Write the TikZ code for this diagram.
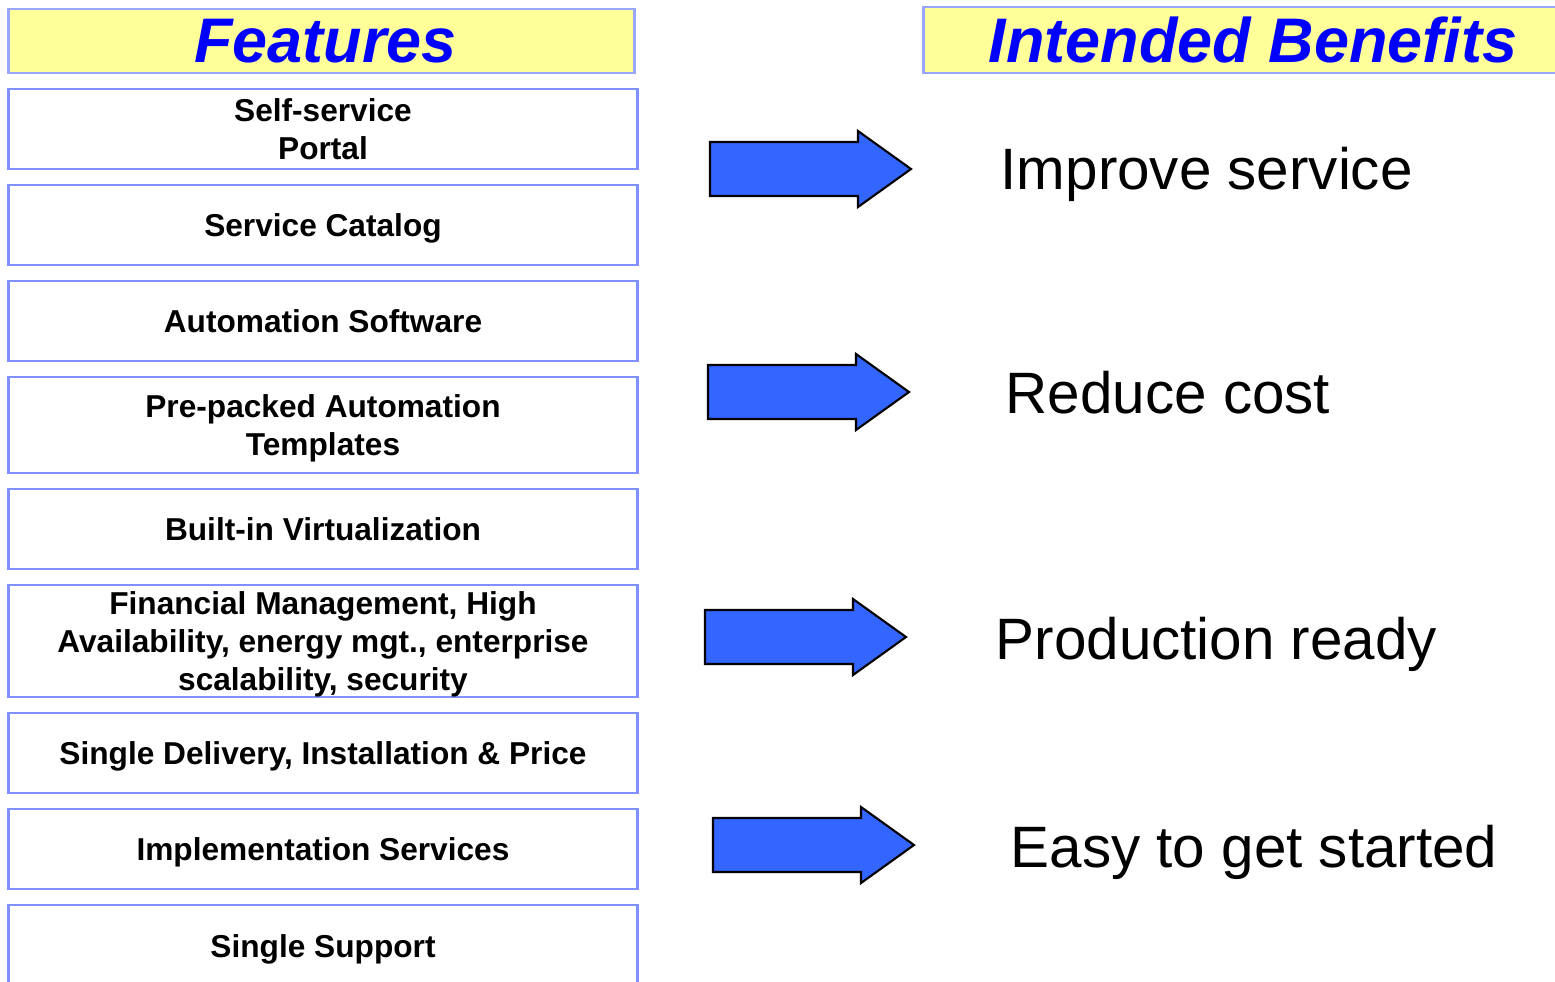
\documentclass[tikz,border=0pt]{standalone}
\usepackage{fontspec}
\setmainfont{Liberation Sans}
\usetikzlibrary{positioning}

\definecolor{headfill}{HTML}{FFFF99}
\definecolor{headline}{HTML}{99A6FF}
\definecolor{boxline}{HTML}{8090FF}
\definecolor{titleblue}{HTML}{0000FF}
\definecolor{arrowblue}{HTML}{3366FF}

\tikzset{
  header/.style={draw=headline, fill=headfill, line width=0.8pt, inner sep=0pt,
    font=\fontsize{17.9pt}{20pt}\selectfont\bfseries\itshape, text=titleblue},
  feature/.style={draw=boxline, line width=0.8pt, minimum width=6.28cm, inner sep=0pt,
    text depth=0pt, align=center, font=\fontsize{9pt}{10.8pt}\selectfont\bfseries},
  benefit/.style={anchor=base west, inner sep=0pt, font=\fontsize{16.6pt}{19pt}\selectfont},
  bigarrow/.style={draw=black, fill=arrowblue, line width=0.6pt, line join=miter}
}

\begin{document}
\begin{tikzpicture}[x=0.01cm, y=-0.01cm]

\useasboundingbox (0,0) rectangle (1555,981);

% Titoli
\node[header, minimum width=6.25cm, minimum height=0.64cm] (feat) at (321.5,41) {\hspace*{0.08cm}Features};
\node[header, minimum width=6.58cm, minimum height=0.66cm] (bene) at (1253,40) {Intended Benefits};

% Caselle delle funzionalita
\node[feature, minimum height=0.8cm] (f1) at (323,129) {Self-service\\Portal};
\node[feature, minimum height=0.8cm] (f2) at (323,225) {Service Catalog};
\node[feature, minimum height=0.8cm] (f3) at (323,321) {Automation Software};
\node[feature, minimum height=0.96cm] (f4) at (323,425) {Pre-packed Automation\\Templates};
\node[feature, minimum height=0.8cm] (f5) at (323,529) {Built-in Virtualization};
\node[feature, minimum height=1.12cm] (f6) at (323,641) {Financial Management, High\\Availability, energy mgt., enterprise\\scalability, security};
\node[feature, minimum height=0.8cm] (f7) at (323,753) {Single Delivery, Installation \& Price};
\node[feature, minimum height=0.8cm] (f8) at (323,849) {Implementation Services};
\node[feature, minimum height=0.96cm] (f9) at (323,953) {};
\node[font=\fontsize{9pt}{10.8pt}\selectfont\bfseries] (f9t) at (323,949) {Single Support};

% Frecce
\foreach \ax/\ay in {710/169, 708/392, 705/637, 713/845}
  \draw[bigarrow] (\ax,\ay-27) -- ++(148,0) -- ++(0,-11) -- (\ax+201,\ay)
    -- (\ax+148,\ay+38) -- ++(0,-11) -- (\ax,\ay+27) -- cycle;

% Benefici
\node[benefit] (b1) at (1000,189) {Improve service};
\node[benefit] (b2) at (1005,413) {Reduce cost};
\node[benefit] (b3) at (995,659) {Production ready};
\node[benefit] (b4) at (1010,867) {Easy to get started};

\end{tikzpicture}
\end{document}
